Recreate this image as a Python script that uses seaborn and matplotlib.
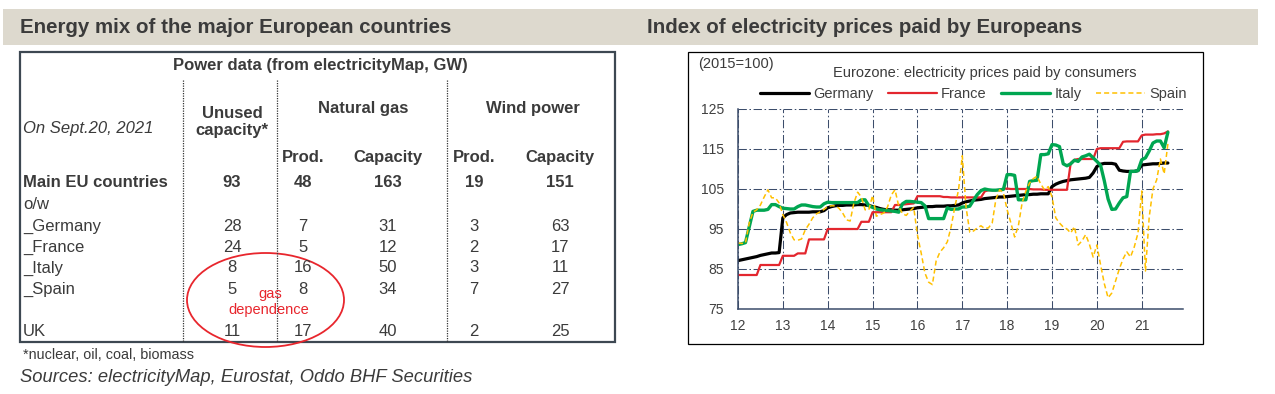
import numpy as np
import pandas as pd
import matplotlib
matplotlib.use("Agg")
import matplotlib.pyplot as plt
from matplotlib.patches import Rectangle, Ellipse
import seaborn as sns

# ---- left panel: power data (electricityMap, GW) on Sept.20, 2021 ----
row_labels = ["Main EU countries", "o/w", "_Germany", "_France", "_Italy", "_Spain", "UK"]
unused_capacity = ["93", "", "28", "24", "8", "5", "11"]
gas_prod = ["48", "", "7", "5", "16", "8", "17"]
gas_capacity = ["163", "", "31", "12", "50", "34", "40"]
wind_prod = ["19", "", "3", "2", "3", "7", "2"]
wind_capacity = ["151", "", "63", "17", "11", "27", "25"]

# ---- right panel: electricity price index (2015=100), monthly Jan 2012 -> Aug 2021 ----
germany = [
    87.1, 87.3, 87.5, 87.7, 87.9, 88.1, 88.4, 88.6, 88.8, 89.0, 89.0, 89.1,
    97.8, 98.6, 99.0, 99.1, 99.2, 99.2, 99.2, 99.2, 99.3, 99.3, 99.3, 99.6,
    100.3, 100.6, 100.8, 100.9, 100.9, 101.0, 101.0, 101.0, 101.1, 101.1, 101.0, 100.9,
    100.6, 100.4, 100.1, 99.9, 99.8, 99.8, 99.7, 99.7, 99.8, 99.9, 100.0, 100.1,
    100.3, 100.4, 100.5, 100.6, 100.6, 100.7, 100.7, 100.7, 100.8, 100.8, 100.9, 101.0,
    101.5, 101.8, 102.0, 102.2, 102.3, 102.4, 102.6, 102.7, 102.8, 102.9, 103.0, 103.0,
    103.1, 103.2, 103.3, 103.4, 103.5, 103.6, 103.6, 103.7, 103.7, 103.8, 103.8, 103.8,
    105.6, 106.2, 106.6, 106.9, 107.1, 107.3, 107.4, 107.5, 107.6, 107.7, 107.9, 109.0,
    110.6, 111.2, 111.4, 111.4, 111.4, 111.2, 109.7, 109.5, 109.4, 109.4, 109.4, 109.6,
    111.0, 111.1, 111.2, 111.3, 111.3, 111.4, 111.5, 111.5,
]
france = [
    83.5, 83.5, 83.5, 83.5, 83.5, 83.5, 86.0, 86.0, 86.0, 86.0, 86.0, 86.0,
    88.3, 88.3, 88.3, 88.3, 88.9, 88.9, 88.9, 92.4, 92.4, 92.4, 92.4, 92.4,
    95.0, 95.0, 95.0, 95.0, 95.0, 95.0, 95.0, 95.0, 95.0, 96.8, 96.8, 96.8,
    99.2, 99.2, 99.2, 99.2, 99.2, 99.2, 101.0, 101.0, 101.1, 101.2, 101.3, 101.4,
    103.2, 103.2, 103.2, 103.2, 103.2, 103.2, 103.2, 103.0, 103.0, 102.9, 102.9, 102.9,
    102.9, 102.9, 102.9, 102.9, 102.9, 102.9, 104.4, 104.7, 104.7, 104.7, 104.8, 105.1,
    105.1, 105.0, 105.0, 105.0, 105.0, 105.0, 105.0, 104.9, 104.9, 104.9, 104.8, 104.8,
    104.8, 104.8, 104.8, 104.8, 104.8, 111.5, 112.3, 112.5, 112.5, 112.5, 112.5, 112.5,
    115.0, 115.2, 115.2, 115.2, 115.2, 115.2, 115.2, 116.8, 116.9, 116.9, 116.9, 116.9,
    118.4, 118.6, 118.6, 118.6, 118.7, 118.7, 118.9, 119.4,
]
italy = [
    91.1, 91.3, 91.6, 95.5, 99.4, 99.7, 99.7, 99.7, 99.9, 101.1, 101.1, 100.6,
    100.2, 100.1, 100.0, 100.0, 100.6, 101.0, 101.0, 100.8, 100.6, 100.5, 100.5, 101.3,
    101.7, 101.6, 101.6, 101.6, 101.6, 101.6, 101.6, 101.6, 101.6, 102.3, 102.3, 100.8,
    100.4, 100.0, 99.8, 99.7, 99.6, 99.5, 99.4, 99.2, 101.3, 101.9, 101.9, 101.8,
    101.7, 101.6, 100.8, 97.6, 97.6, 97.6, 97.6, 97.6, 100.3, 99.9, 100.0, 100.0,
    100.5, 100.5, 100.7, 102.2, 103.6, 104.6, 105.0, 104.8, 104.7, 104.7, 104.8, 104.9,
    108.6, 108.6, 108.4, 102.3, 102.3, 102.3, 106.9, 107.1, 107.2, 113.6, 113.6, 113.8,
    116.1, 116.0, 115.6, 111.3, 110.8, 111.3, 112.2, 111.9, 113.0, 113.3, 113.7, 112.8,
    111.9, 110.9, 107.0, 102.5, 99.9, 100.0, 101.5, 102.8, 103.1, 109.4, 109.4, 109.6,
    112.3, 112.8, 114.5, 116.5, 117.0, 117.0, 115.3, 119.2,
]
spain = [
    91.5, 91.4, 91.5, 96.5, 99.2, 99.8, 101.0, 103.0, 104.8, 102.8, 102.8, 101.5,
    98.6, 96.6, 94.0, 92.3, 92.2, 92.5, 94.8, 96.2, 97.8, 98.8, 99.3, 99.9,
    100.6, 100.8, 100.8, 100.2, 99.0, 97.3, 97.0, 101.5, 104.2, 103.0, 99.8, 99.8,
    103.4, 98.2, 98.6, 99.0, 100.5, 103.5, 104.8, 100.7, 98.8, 98.4, 99.5, 100.4,
    93.5, 89.0, 84.0, 81.7, 81.1, 87.0, 89.2, 90.3, 91.8, 95.5, 100.5, 104.8,
    113.3, 100.5, 94.2, 94.5, 95.3, 95.8, 95.1, 95.3, 96.5, 102.5, 104.8, 104.0,
    99.8, 96.5, 93.0, 95.8, 101.5, 104.5, 106.5, 107.6, 108.2, 106.2, 104.8, 105.6,
    103.0, 97.8, 96.5, 95.5, 95.0, 94.0, 95.6, 91.0, 92.0, 93.6, 91.2, 88.0,
    91.0, 86.0, 81.3, 77.8, 79.0, 82.0, 85.0, 87.5, 89.3, 88.0, 90.5, 94.0,
    104.5, 84.5, 98.0, 105.0, 107.3, 112.5, 108.8, 116.3,
]
countries = ["Germany", "France", "Italy", "Spain"]
colors = {"Germany": "#000000", "France": "#E3262E", "Italy": "#00A651", "Spain": "#FFC000"}
widths = {"Germany": 2.3, "France": 1.6, "Italy": 2.4, "Spain": 1.1}
styles = {"Germany": "-", "France": "-", "Italy": "-", "Spain": (0, (3.3, 2))}

months = 12 + np.arange(len(germany)) / 12  # 12 = 2012
df = pd.DataFrame({"year": months, "Germany": germany, "France": france,
                   "Italy": italy, "Spain": spain})
df = df.melt(id_vars="year", var_name="country", value_name="index")

sns.set_style("white")
plt.rcParams["font.family"] = ["Liberation Sans", "DejaVu Sans"]

ink = "#3b3b3b"
grid_c = "#3c4d6b"

fig = plt.figure(figsize=(12.75, 3.94), dpi=100)

# full-figure layer in pixel coordinates for the headers and the table
bg = fig.add_axes([0, 0, 1, 1])
bg.set_xlim(0, 1275)
bg.set_ylim(394, 0)
bg.axis("off")

bg.add_patch(Rectangle((3, 9), 1255, 36, color="#DDD9CE", lw=0))
bg.text(20, 27, "Energy mix of the major European countries", fontsize=14.8,
        fontweight="bold", color=ink, va="center")
bg.text(647, 27, "Index of electricity prices paid by Europeans", fontsize=14.8,
        fontweight="bold", color=ink, va="center")

# table frame and dotted separators
bg.add_patch(Rectangle((20, 52), 595, 290, fill=False, ec="#3d4852", lw=1.6))
for x in [183, 277, 447]:
    bg.plot([x, x], [80, 342], color="#333333", lw=0.9, ls=(0, (1, 1)))

bg.text(320, 65, "Power data (from electricityMap, GW)", fontsize=12,
        fontweight="bold", color=ink, ha="center", va="center")
bg.text(23, 129, "On Sept.20, 2021", fontsize=12, style="italic", color=ink, va="center")
bg.text(232, 113, "Unused", fontsize=12, fontweight="bold", color=ink, ha="center", va="center")
bg.text(232, 131, "capacity*", fontsize=12, fontweight="bold", color=ink, ha="center", va="center")
bg.text(363, 108, "Natural gas", fontsize=12, fontweight="bold", color=ink, ha="center", va="center")
bg.text(533, 108, "Wind power", fontsize=12, fontweight="bold", color=ink, ha="center", va="center")

col_x = [232, 303, 388, 474, 560]
for cx, head in zip(col_x[1:], ["Prod.", "Capacity", "Prod.", "Capacity"]):
    bg.text(cx, 157, head, fontsize=12, fontweight="bold", color=ink, ha="center", va="center")

row_y = [182, 204, 226, 247, 268, 289, 332]
columns = [unused_capacity, gas_prod, gas_capacity, wind_prod, wind_capacity]
for i, lab in enumerate(row_labels):
    weight = "bold" if i == 0 else "normal"
    bg.text(23, row_y[i], lab, fontsize=12, fontweight=weight, color=ink, va="center")
    for cx, col in zip(col_x, columns):
        bg.text(cx, row_y[i], col[i], fontsize=12, fontweight=weight, color=ink,
                ha="center", va="center")

red = "#E8262D"
bg.add_patch(Ellipse((265.5, 300), 157, 94, fill=False, ec=red, lw=1.3))
bg.text(270, 294, "gas", fontsize=10.5, color=red, ha="center", va="center")
bg.text(269, 310, "dependence", fontsize=10.5, color=red, ha="center", va="center")

bg.text(23, 355, "*nuclear, oil, coal, biomass", fontsize=10.4, color=ink, va="center")
bg.text(20, 377, "Sources: electricityMap, Eurostat, Oddo BHF Securities", fontsize=13.2,
        style="italic", color=ink, va="center")

# right chart frame and captions
bg.add_patch(Rectangle((688, 52), 515, 292, fill=False, ec="black", lw=0.9))
bg.text(698, 64, "(2015=100)", fontsize=10.5, color=ink, va="center")
bg.text(985, 73, "Eurozone: electricity prices paid by consumers", fontsize=10.5,
        color=ink, ha="center", va="center")

# line chart
ax = fig.add_axes([738 / 1275, 1 - 309 / 394, 445 / 1275, 200 / 394])
ax.set_facecolor("none")
for c in countries:
    sns.lineplot(data=df[df["country"] == c], x="year", y="index", ax=ax,
                 color=colors[c], lw=widths[c], linestyle=styles[c], label=c,
                 estimator=None, errorbar=None)

ax.set_xlim(12, 21.92)
ax.set_ylim(75, 125)
ax.set_xticks(range(12, 22))
ax.set_yticks(range(75, 126, 10))
ax.set_xlabel("")
ax.set_ylabel("")
ax.tick_params(length=0, labelsize=10, labelcolor="#404040")
ax.tick_params(axis="x", pad=7)
ax.tick_params(axis="y", pad=10)
ax.grid(True, color=grid_c, lw=0.75, linestyle=(0, (8, 2.5, 1.5, 2.5)))
ax.set_axisbelow(True)
for side in ["top", "right"]:
    ax.spines[side].set_visible(False)
for side in ["left", "bottom"]:
    ax.spines[side].set_color(grid_c)
    ax.spines[side].set_linewidth(1.1)

ax.legend(loc="center", bbox_to_anchor=(973.5 / 1275, 1 - 94 / 394),
          bbox_transform=fig.transFigure, ncol=4, frameon=False, fontsize=10.5,
          handlelength=3.35, handletextpad=0.3, columnspacing=1.0,
          borderpad=0, borderaxespad=0, labelcolor="#404040")

fig.savefig("out.png", dpi=100)
